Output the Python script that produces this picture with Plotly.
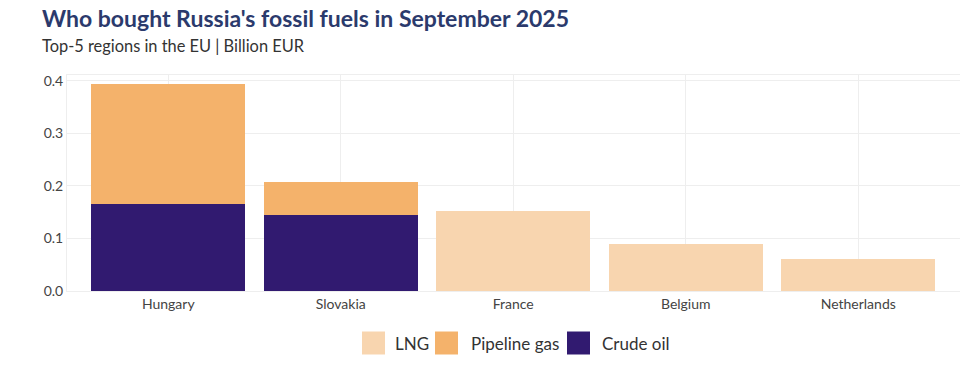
import plotly.graph_objects as go

regions = ["Hungary", "Slovakia", "France", "Belgium", "Netherlands"]
crude_oil = [0.166, 0.144, 0.0, 0.0, 0.0]
pipeline_gas = [0.227, 0.063, 0.0, 0.0, 0.0]
lng = [0.0, 0.0, 0.152, 0.090, 0.060]

legend_names = ["LNG", "Pipeline gas", "Crude oil"]

series = [
    ("Crude oil", crude_oil, "#311a70"),
    ("Pipeline gas", pipeline_gas, "#f4b26b"),
    ("LNG", lng, "#f8d5af"),
]
colors = {n: c for n, _, c in series}

font_family = "Source Sans Pro, Lato, Noto Sans, sans-serif"

fig = go.Figure()
for name, vals, color in series:
    fig.add_trace(go.Bar(x=regions, y=vals, name=name, marker=dict(color=color, line=dict(width=0)),
                         showlegend=False))

FIG_W, FIG_H = 960, 365
L, T, W, H = 67, 75, 893, 216
def px(x):
    return (x - L) / W
def py(y):
    return (T + H - y) / H

shapes = []
annotations = [
    dict(text="<b>Who bought Russia's fossil fuels in September 2025</b>", x=px(40), y=py(18),
         xref="paper", yref="paper", xanchor="left", yanchor="middle", showarrow=False,
         font=dict(size=23, color="#2b3a6c", family=font_family)),
    dict(text="Top-5 regions in the EU | Billion EUR", x=px(40), y=py(45),
         xref="paper", yref="paper", xanchor="left", yanchor="middle", showarrow=False,
         font=dict(size=16.4, color="#333", family=font_family)),
]
sq_left = [362, 435, 567]
txt_left = [393, 469, 600]
for name, sl, tl in zip(legend_names, sq_left, txt_left):
    shapes.append(dict(type="rect", xref="paper", yref="paper", x0=px(sl), x1=px(sl + 23),
                       y0=py(354.5), y1=py(331.5), fillcolor=colors[name], line=dict(width=0)))
    annotations.append(dict(text=name, x=px(tl), y=py(343), xref="paper", yref="paper",
                            xanchor="left", yanchor="middle", showarrow=False,
                            font=dict(size=17, color="#333", family=font_family)))

fig.update_layout(
    width=FIG_W, height=FIG_H,
    barmode="stack", bargap=0.107,
    plot_bgcolor="white", paper_bgcolor="white",
    margin=dict(l=L, r=FIG_W - L - W, t=T, b=FIG_H - T - H, autoexpand=False),
    font=dict(family=font_family, color="#444"),
    showlegend=False,
    shapes=shapes, annotations=annotations,
    xaxis=dict(range=[-0.587, 4.59], showgrid=True, gridcolor="#eeeeee",
               showline=True, linecolor="#eeeeee", mirror=True,
               tickfont=dict(size=14, color="#444"), ticks="", fixedrange=True),
    yaxis=dict(range=[0, 0.411], dtick=0.1, tickformat=".1f", showgrid=True, gridcolor="#eeeeee",
               showline=True, linecolor="#eeeeee", mirror=True, zeroline=False,
               tickfont=dict(size=14, color="#444"), ticks="", ticklen=6),
)

fig.write_html("out.html", config={"displayModeBar": False},
               post_script="document.body.style.margin='0px';document.body.style.overflow='hidden';")
